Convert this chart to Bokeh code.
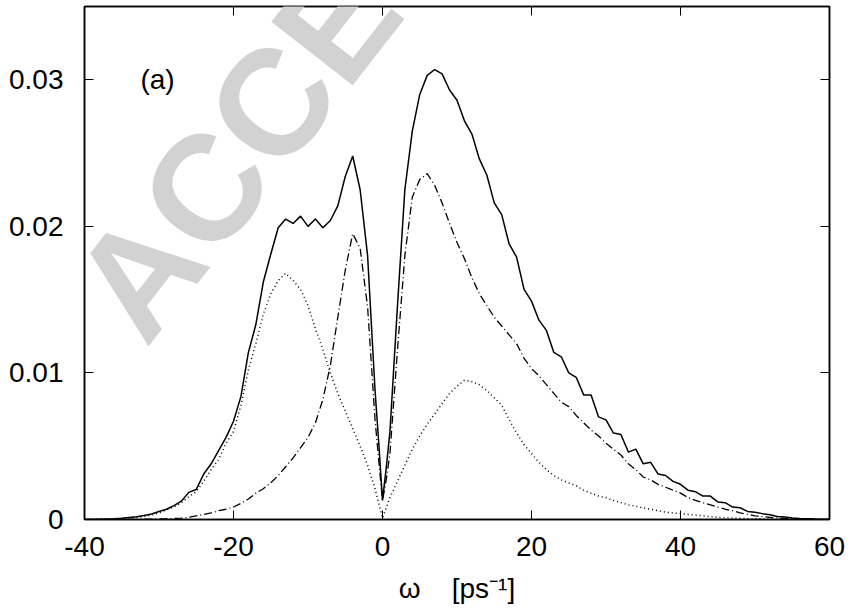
from bokeh.plotting import figure
from bokeh.models import Range1d, LinearAxis, FixedTicker, Label, ColumnDataSource
from bokeh.embed import file_html
from bokeh.resources import INLINE

# frequency grid [ps^-1]
omega = list(range(-40, 0)) + [-0.5, 0, 0.5] + list(range(1, 61))

# total spectrum (solid), in units of 1e-3
total_milli = [
    0.0, 0.0, 0.02, 0.03, 0.05, 0.08, 0.14, 0.18, 0.27, 0.38,
    0.55, 0.7, 0.95, 1.25, 1.85, 2.05, 3.1, 3.8, 4.7, 5.6,
    6.7, 8.4, 11.4, 13.3, 16.2, 18.1, 19.9, 20.5, 20.2, 20.7,
    20.0, 20.5, 19.9, 20.4, 21.4, 23.4, 24.8, 22.5, 18.0, 8.8,
    5.2, 1.3, 3.5,
    6.0, 14.5, 22.5, 26.5, 29.0, 30.3, 30.7, 30.4, 29.3, 28.6,
    27.2, 26.3, 24.6, 23.5, 21.6, 20.8, 18.8, 17.9, 15.7, 14.9,
    13.6, 12.9, 11.4, 11.1, 10.0, 9.7, 8.5, 8.5, 7.0, 6.8,
    5.9, 5.8, 4.6, 4.8, 3.8, 3.9, 3.1, 3.0, 2.6, 2.4,
    2.0, 1.9, 1.6, 1.6, 1.2, 1.15, 0.85, 0.8, 0.55, 0.5,
    0.4, 0.32, 0.2, 0.17, 0.1, 0.07, 0.05, 0.03, 0.02, 0.01,
]

# low-frequency component (dotted), in units of 1e-3
dotted_milli = [
    0.0, 0.01, 0.02, 0.03, 0.04, 0.06, 0.1, 0.15, 0.2, 0.3,
    0.45, 0.65, 0.85, 1.15, 1.55, 1.9, 2.6, 3.4, 4.1, 5.2,
    6.0, 7.8, 10.2, 12.0, 14.0, 15.4, 16.3, 16.8, 16.3, 15.7,
    14.6, 13.0, 11.6, 10.0, 8.6, 7.4, 6.2, 5.0, 3.7, 2.1,
    1.1, 0.1, 0.8,
    1.5, 2.6, 3.7, 4.8, 5.7, 6.5, 7.2, 7.9, 8.6, 9.1,
    9.5, 9.4, 9.2, 8.8, 8.3, 7.8, 6.8, 5.9, 5.1, 4.5,
    3.9, 3.4, 3.0, 2.7, 2.5, 2.3, 2.0, 1.8, 1.6, 1.5,
    1.3, 1.15, 1.0, 0.9, 0.8, 0.7, 0.6, 0.5, 0.45, 0.4,
    0.35, 0.3, 0.25, 0.2, 0.15, 0.12, 0.1, 0.08, 0.06, 0.05,
    0.04, 0.03, 0.02, 0.02, 0.01, 0.01, 0.01, 0.0, 0.0, 0.0,
]

# high-frequency component (dash-dot), in units of 1e-3
dashdot_milli = [
    0.0, 0.0, 0.0, 0.0, 0.0, 0.0, 0.01, 0.01, 0.02, 0.03,
    0.04, 0.05, 0.07, 0.1, 0.15, 0.25, 0.35, 0.45, 0.6, 0.7,
    0.85, 1.1, 1.4, 1.8, 2.1, 2.5, 3.0, 3.6, 4.2, 4.9,
    5.6, 6.6, 8.2, 10.5, 13.8, 17.0, 19.5, 18.5, 14.5, 6.8,
    4.0, 1.3, 2.7,
    4.5, 11.5, 18.0, 22.0, 23.2, 23.6, 22.8, 21.6, 20.2, 18.9,
    17.8, 16.5, 15.4, 14.6, 13.8, 13.2, 12.6, 12.0, 11.0, 10.3,
    9.8, 9.2, 8.6, 8.0, 7.7, 7.1, 6.6, 6.1, 5.7, 5.2,
    4.8, 4.4, 3.8, 3.4, 2.9, 2.7, 2.4, 2.2, 2.0, 1.8,
    1.5, 1.3, 1.15, 1.0, 0.85, 0.7, 0.6, 0.45, 0.35, 0.25,
    0.2, 0.15, 0.1, 0.07, 0.05, 0.03, 0.02, 0.01, 0.0, 0.0,
]

x_ticks = [-40, -20, 0, 20, 40, 60]
x_tick_labels = {-40: "-40", -20: "-20", 0: "0", 20: "20", 40: "40", 60: "60"}
y_ticks = [0, 0.01, 0.02, 0.03]
y_tick_labels = {0: "0", 0.01: "0.01", 0.02: "0.02", 0.03: "0.03"}

src = ColumnDataSource(dict(
    w=omega,
    total=[v * 1e-3 for v in total_milli],
    dotted=[v * 1e-3 for v in dotted_milli],
    dashdot=[v * 1e-3 for v in dashdot_milli],
))

p = figure(width=845, height=606, output_backend="svg", toolbar_location=None,
           x_range=Range1d(-40, 60), y_range=Range1d(0, 0.035),
           min_border_left=84, min_border_right=16, min_border_top=6,
           min_border_bottom=87, background_fill_color="white",
           border_fill_color="white")
p.grid.visible = False
p.outline_line_color = "black"
p.outline_line_width = 1.5

FONT = "Liberation Sans"

def style(ax, show_labels=True):
    ax.axis_line_color = "black"
    ax.axis_line_width = 1.5
    ax.major_tick_in = 9
    ax.major_tick_out = 0
    ax.major_tick_line_color = "black"
    ax.major_tick_line_width = 1
    ax.minor_tick_line_color = None
    ax.major_label_text_font = FONT
    if show_labels:
        ax.major_label_text_color = "black"
        ax.major_label_text_font_size = "28px"
    else:
        ax.major_label_text_color = None
        ax.major_label_text_font_size = "0px"
        ax.major_label_standoff = 0

p.xaxis.ticker = FixedTicker(ticks=x_ticks)
p.xaxis.major_label_overrides = x_tick_labels
p.yaxis.ticker = FixedTicker(ticks=y_ticks)
p.yaxis.major_label_overrides = y_tick_labels
style(p.xaxis[0])
style(p.yaxis[0])
p.xaxis.major_label_standoff = 17
p.yaxis.major_label_standoff = 21

p.xaxis.axis_label = "ω\u00a0\u00a0\u00a0\u00a0[ps⁻¹]"
p.xaxis.axis_label_text_font = FONT
p.xaxis.axis_label_text_font_size = "28px"
p.xaxis.axis_label_text_font_style = "normal"
p.xaxis.axis_label_text_color = "black"
p.xaxis.axis_label_standoff = 14

top = LinearAxis(ticker=FixedTicker(ticks=x_ticks))
right = LinearAxis(ticker=FixedTicker(ticks=y_ticks))
style(top, False)
style(right, False)
p.add_layout(top, "above")
p.add_layout(right, "right")

p.line("w", "dotted", source=src, line_color="black", line_width=1.5, line_dash="1 3")
p.line("w", "dashdot", source=src, line_color="black", line_width=1.3, line_dash="8 3 1 3")
p.line("w", "total", source=src, line_color="black", line_width=1.5)

# panel tag
p.add_layout(Label(x=-32.5, y=0.0300, text="(a)", text_font=FONT,
                   text_font_size="28px", text_color="black",
                   text_align="left", text_baseline="alphabetic"))

# watermark
p.add_layout(Label(x=-37.2, y=0.0138, text="ACCEPTED", angle=0.9076,
                   text_font=FONT, text_font_style="bold",
                   text_font_size="150px", text_color="#d2d2d2",
                   text_align="left", text_baseline="alphabetic"))

open("out.html", "w").write(file_html(p, INLINE))
